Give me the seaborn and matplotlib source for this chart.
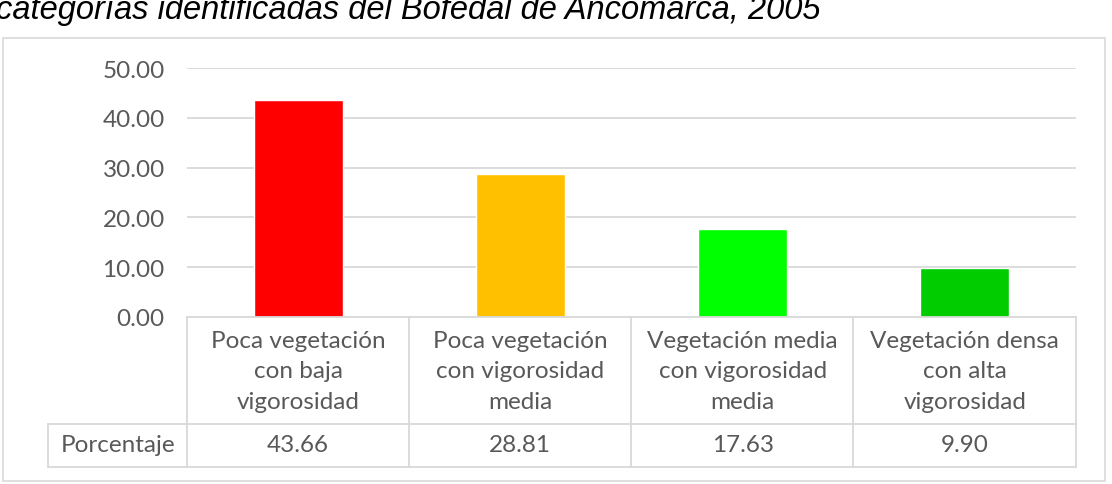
import matplotlib
matplotlib.use('Agg')
import matplotlib.pyplot as plt
import matplotlib.transforms as mtransforms
from matplotlib.lines import Line2D
from matplotlib.patches import Rectangle
import seaborn as sns
import pandas as pd

# datos
categorias = ['Poca vegetación\ncon baja\nvigorosidad',
              'Poca vegetación\ncon vigorosidad\nmedia',
              'Vegetación media\ncon vigorosidad\nmedia',
              'Vegetación densa\ncon alta\nvigorosidad']
porcentaje = [43.66, 28.81, 17.63, 9.90]
colores = ['#FF0000', '#FFC000', '#00FF00', '#00CC00']
yticks = [0, 10, 20, 30, 40, 50]
titulo = 'categorías identificadas del Bofedal de Ancomarca, 2005'

df = pd.DataFrame({'cat': categorias, 'val': porcentaje})

sns.set_style('white')
plt.rcParams['font.family'] = ['Lato', 'DejaVu Sans']

W, H = 1112, 485
fig = plt.figure(figsize=(W / 100, H / 100), dpi=100)

def fx(x):
    return x / W

def fy(y):
    return 1 - y / H

gris = '#595959'
linea = '#D9D9D9'
fs = 17.5

# marco del grafico
fig.patches.append(Rectangle((fx(3), fy(482)), fx(1102), (479 - 36) / H,
                             transform=fig.transFigure, fill=False,
                             edgecolor=linea, lw=1.2))

# titulo cortado arriba
fig.text(fx(-4), fy(19), titulo, fontsize=23.5, style='italic',
         family='Liberation Sans', color='#000000', va='baseline', ha='left')

ax = fig.add_axes([fx(187), fy(318), fx(1076 - 187), (318 - 69) / H])
sns.barplot(data=df, x='cat', y='val', hue='cat', palette=colores,
            legend=False, width=0.4, ax=ax, saturation=1)
ax.set_ylim(0, 50)
ax.set_xlim(-0.5, 3.5)
ax.set_yticks(yticks)
ax.set_yticklabels([f'{v:.2f}' for v in yticks])
ax.yaxis.grid(True, color=linea, lw=1.3)
ax.set_axisbelow(True)
ax.tick_params(axis='y', length=0, pad=16, labelsize=fs, labelcolor=gris)
ax.set_xticks([])
ax.set_xlabel('')
ax.set_ylabel('')
for s in ['top', 'right', 'left']:
    ax.spines[s].set_visible(False)
ax.spines['bottom'].set_color(linea)
ax.spines['bottom'].set_linewidth(1.3)

# tabla de datos
trans = mtransforms.blended_transform_factory(ax.transData, fig.transFigure)
for i, (c, v) in enumerate(zip(categorias, porcentaje)):
    ax.text(i, fy(372), c, transform=trans, ha='center', va='center',
            fontsize=fs, color=gris, linespacing=1.55)
    ax.text(i, fy(446), f'{v:.2f}', transform=trans, ha='center', va='center',
            fontsize=fs, color=gris)
fig.text(fx(118), fy(446), 'Porcentaje', ha='center', va='center',
         fontsize=fs, color=gris)

for x in [187, 409, 631, 853, 1076]:
    fig.lines.append(Line2D([fx(x), fx(x)], [fy(318), fy(468)],
                            transform=fig.transFigure, color=linea, lw=1.3))
fig.lines.append(Line2D([fx(48), fx(48)], [fy(425), fy(468)],
                        transform=fig.transFigure, color=linea, lw=1.3))
for y in [425, 468]:
    fig.lines.append(Line2D([fx(48), fx(1076)], [fy(y), fy(y)],
                            transform=fig.transFigure, color=linea, lw=1.3))

fig.savefig('out.png', dpi=100)
